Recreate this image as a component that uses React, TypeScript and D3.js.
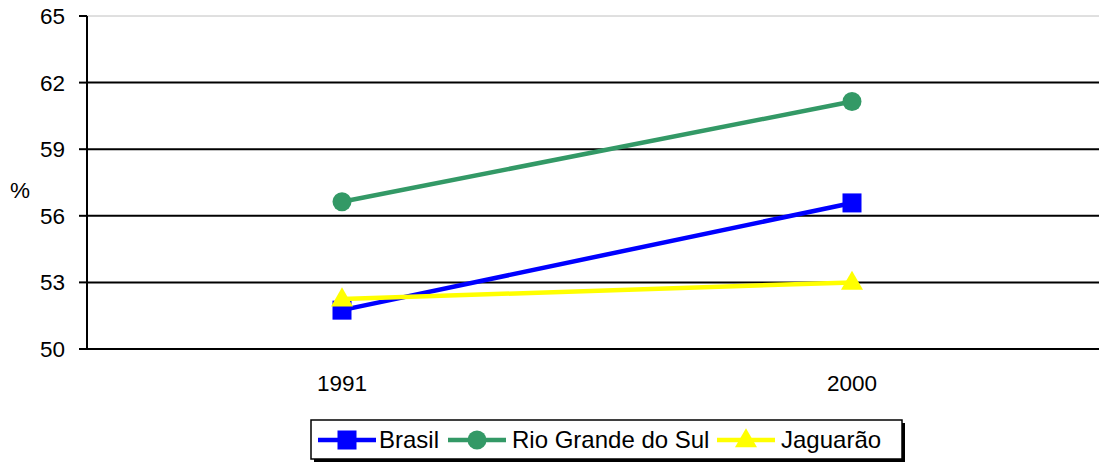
import React from "react";
import * as d3 from "d3";

const years = ["1991", "2000"];
const brasil = [51.75, 56.58];
const rioGrande = [56.63, 61.15];
const jaguarao = [52.25, 53.0];
const yTicks = [50, 53, 56, 59, 62, 65];

const series = [
  { name: "Brasil", values: brasil, color: "#0000FF", marker: "square" },
  { name: "Rio Grande do Sul", values: rioGrande, color: "#339966", marker: "circle" },
  { name: "Jaguarão", values: jaguarao, color: "#FFFF00", marker: "triangle" },
];

const W = 1099;
const H = 463;
const left = 87;
const font = "'Liberation Sans', Arial, sans-serif";

function Marker({ type, x, y, color }: { type: string; x: number; y: number; color: string }) {
  if (type === "square") return <rect x={x - 9.5} y={y - 9.5} width={19} height={19} fill={color} />;
  if (type === "circle") return <circle cx={x} cy={y} r={9.5} fill={color} />;
  const p = d3.symbol().type(d3.symbolTriangle).size(210)();
  return <path d={p || ""} transform={`translate(${x},${y + 1})`} fill={color} />;
}

export default function App() {
  const x = d3.scalePoint<string>().domain(years).range([left, 1107]).padding(0.5);
  const y = d3.scaleLinear().domain([50, 65]).range([349, 16]);
  const line = d3
    .line<number>()
    .x((_, i) => x(years[i]) as number)
    .y((d) => y(d));

  const legendItems = [
    { s: series[0], lx: 318, tx: 379 },
    { s: series[1], lx: 448, tx: 512 },
    { s: series[2], lx: 717, tx: 781 },
  ];

  return (
    <svg width={W} height={H} style={{ position: "absolute", left: 0, top: 0, fontFamily: font }}>
      <rect width={W} height={H} fill="#fff" />
      {yTicks.map((t) => (
        <g key={t}>
          <line
            x1={left}
            x2={W}
            y1={y(t)}
            y2={y(t)}
            stroke={t === 65 ? "#c0c0c0" : "#000"}
            strokeWidth={t === 65 ? 1 : 2}
          />
          <line x1={79} x2={left} y1={y(t)} y2={y(t)} stroke="#000" strokeWidth={2} />
          <text x={65} y={y(t) + 8} textAnchor="end" fontSize={22.5} fill="#000">
            {t}
          </text>
        </g>
      ))}
      <line x1={left} x2={left} y1={y(65)} y2={y(50) + 1} stroke="#000" strokeWidth={2} />
      <text x={20} y={198} textAnchor="middle" fontSize={22.5} fill="#000">%</text>
      {years.map((yr) => (
        <text key={yr} x={x(yr) as number} y={391} textAnchor="middle" fontSize={22.5} fill="#000">
          {yr}
        </text>
      ))}
      {series.map((s) => (
        <g key={s.name}>
          <path d={line(s.values) || ""} fill="none" stroke={s.color} strokeWidth={4.5} />
          {s.values.map((v, i) => (
            <Marker key={i} type={s.marker} x={x(years[i]) as number} y={y(v)} color={s.color} />
          ))}
        </g>
      ))}
      <rect x={314} y={423} width={591} height={39} fill="#000" />
      <rect x={311} y={420} width={591} height={39} fill="#fff" stroke="#000" strokeWidth={1.5} />
      {legendItems.map(({ s, lx, tx }) => (
        <g key={s.name}>
          <line x1={lx} x2={lx + 58} y1={440} y2={440} stroke={s.color} strokeWidth={4.5} />
          <Marker type={s.marker} x={lx + 29} y={440} color={s.color} />
          <text x={tx} y={448} fontSize={24} fill="#000">
            {s.name}
          </text>
        </g>
      ))}
    </svg>
  );
}
